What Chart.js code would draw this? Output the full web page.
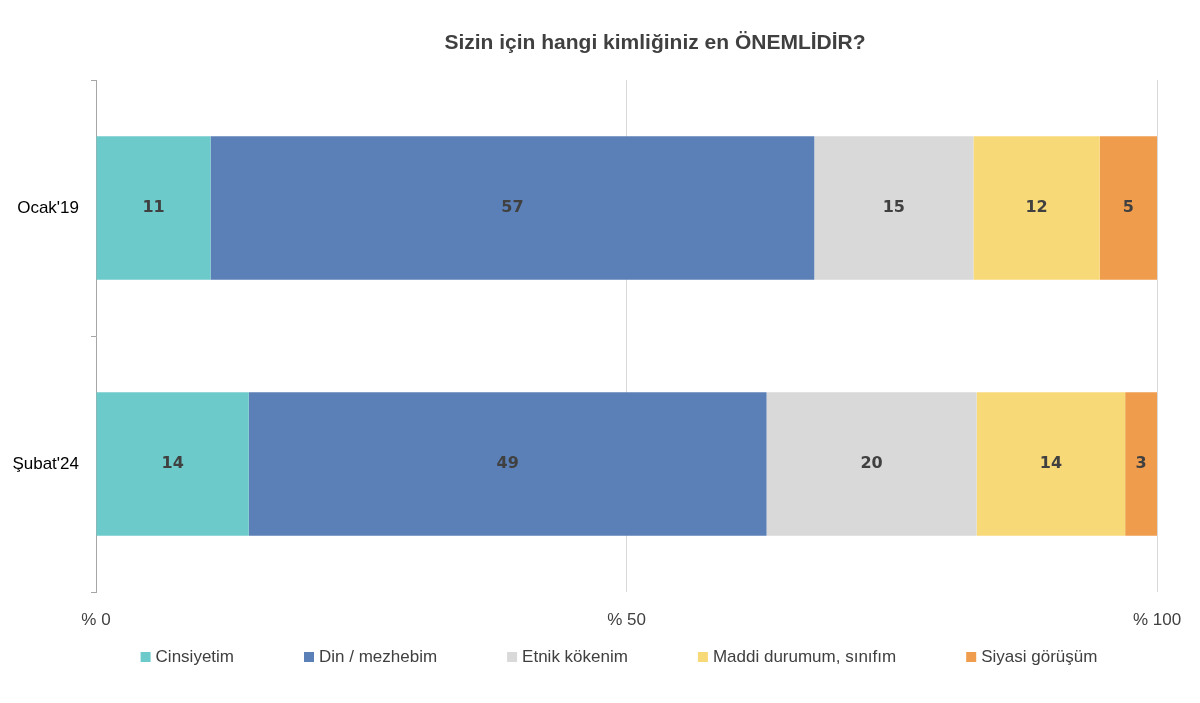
<!DOCTYPE html>
<html>
<head>
<meta charset="utf-8">
<script src="https://cdn.jsdelivr.net/npm/chart.js@4"></script>
<style>
  body { margin: 0; background: #fff; }
  #wrap { width: 1200px; height: 703px; }
</style>
</head>
<body>
<div id="wrap"><canvas id="myChart" width="1200" height="703"></canvas></div>
<script>
const labels = ["Ocak'19", "Şubat'24"];
const seriesNames = ['Cinsiyetim', 'Din / mezhebim', 'Etnik kökenim', 'Maddi durumum, sınıfım', 'Siyasi görüşüm'];
const cinsiyet = [10.8, 14.4];
const din = [56.9, 48.8];
const etnik = [15.0, 19.8];
const maddi = [11.9, 14.0];
const siyasi = [5.4, 3.0];
const xTicks = [0, 50, 100];
const colors = ['#6CCACA', '#5B80B7', '#D9D9D9', '#F8D978', '#EF9D4C'];

const titleText = 'Sizin için hangi kimliğiniz en ÖNEMLİDİR?';
const baseFont = '"Liberation Sans", Arial, sans-serif';

// title, centred a bit right of the canvas middle like the original
const titlePlugin = {
    id: 'topTitle',
    afterDraw(chart) {
        const c = chart.ctx;
        c.save();
        c.font = 'bold 21px ' + baseFont;
        c.fillStyle = '#404040';
        c.textAlign = 'center';
        c.textBaseline = 'middle';
        c.fillText(titleText, 655, 43);
        c.restore();
    }
};

// legend drawn by hand so the spacing can be wide without eating chart height
const bottomLegend = {
    id: 'bottomLegend',
    afterDraw(chart) {
        const c = chart.ctx;
        const gap = 70, box = 10, boxGap = 5, y = 657;
        c.save();
        c.font = '17px ' + baseFont;
        c.textBaseline = 'middle';
        const items = chart.data.datasets.map(ds => ({
            text: ds.label, color: ds.backgroundColor, w: box + boxGap + c.measureText(ds.label).width
        }));
        const total = items.reduce((s, it) => s + it.w, 0) + gap * (items.length - 1);
        let x = 619 - total / 2;
        items.forEach(it => {
            c.fillStyle = it.color;
            c.fillRect(x, y - box / 2, box, box);
            c.fillStyle = '#404040';
            c.textAlign = 'left';
            c.fillText(it.text, x + box + boxGap, y);
            x += it.w + gap;
        });
        c.restore();
    }
};

const valueLabels = {
    id: 'valueLabels',
    afterDatasetsDraw(chart) {
        const c = chart.ctx;
        c.save();
        c.font = 'bold 16px "DejaVu Sans", sans-serif';
        c.fillStyle = '#404040';
        c.textAlign = 'center';
        c.textBaseline = 'middle';
        chart.data.datasets.forEach((ds, i) => {
            chart.getDatasetMeta(i).data.forEach((bar, j) => {
                const v = Math.round(ds.data[j]);
                c.fillText(v, (bar.x + bar.base) / 2, bar.y);
            });
        });
        c.restore();
    }
};

const allData = [cinsiyet, din, etnik, maddi, siyasi];

new Chart(document.getElementById('myChart'), {
    type: 'bar',
    data: {
        labels: labels,
        datasets: seriesNames.map((name, i) => ({
            label: name,
            data: allData[i],
            backgroundColor: colors[i],
            borderWidth: 0,
            barPercentage: 0.56,
            categoryPercentage: 1
        }))
    },
    options: {
        indexAxis: 'y',
        responsive: false,
        animation: false,
        layout: { padding: { top: 80, right: 43, left: 0, bottom: 61 } },
        scales: {
            x: {
                stacked: true,
                min: 0,
                max: 100,
                afterBuildTicks: (s) => { s.ticks = xTicks.map(v => ({ value: v })); },
                ticks: {
                    callback: (v) => '% ' + v,
                    font: { family: baseFont, size: 17 },
                    color: '#404040',
                    padding: 18
                },
                grid: { color: '#D9D9D9', drawTicks: false },
                border: { display: false },
                afterFit: (s) => { s.height = 50; }
            },
            y: {
                stacked: true,
                offset: true,
                ticks: {
                    font: { family: baseFont, size: 17 },
                    color: '#000',
                    padding: 12
                },
                grid: { offset: true, drawOnChartArea: false, tickLength: 5, color: '#A6A6A6' },
                border: { color: '#A6A6A6' },
                afterFit: (s) => { s.width = 96; }
            }
        },
        plugins: {
            legend: { display: false },
            tooltip: { enabled: false }
        }
    },
    plugins: [titlePlugin, valueLabels, bottomLegend]
});
</script>
</body>
</html>
